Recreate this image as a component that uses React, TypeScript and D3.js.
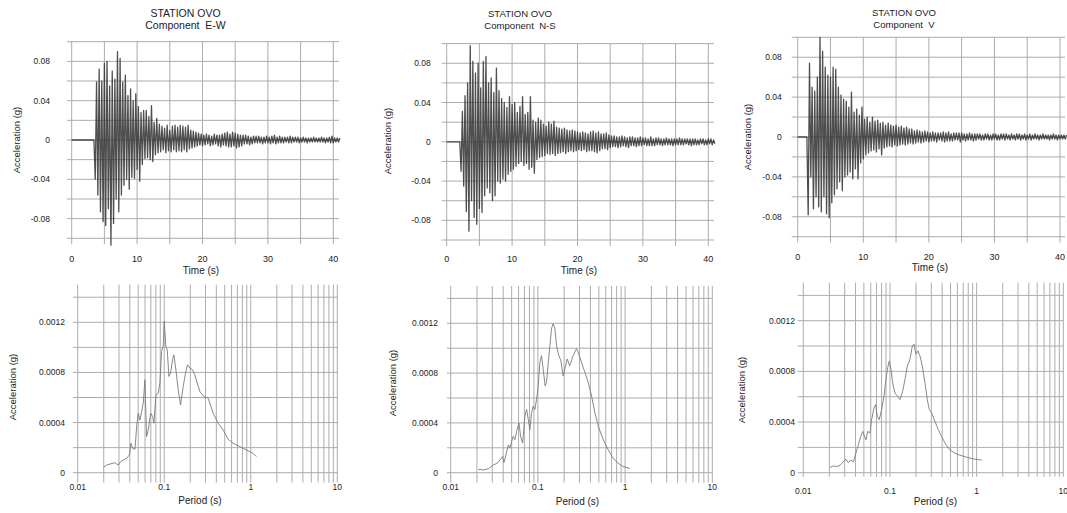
import React from "react";
import * as d3 from "d3";

// accelerograms: one sample every 0.2 s, values in 0.001 g
const DT = 0.2;

const ewStart = 3.4;
const ewAcc = [
  0, -40, 59, -56, 72, -73, 60, -83, 78, -87,
  80, -70, 55, -107, 70, -85, 62, -60, 90, -73,
  83, -56, 59, -46, 66, -40, 45, -50, 52, -38,
  40, -39, 47, -30, 34, -42, 28, -25, 30, -19,
  30, -18, 24, -20, 35, -22, 18, -15, 22, -13,
  16, -12, 14, -10, 12, -13, 15, -11, 10, -12,
  14, -10, 15, -12, 13, -11, 15, -12, 14, -10,
  13, -12, 15, -9, 10, -8, 9, -7, 8, -6,
  7, -5, 6, -6, 5,
  -5, 6, -4, 5, -6, 4, -5, 6, -4, 5,
  -6, 5, -7, 6, -5, 7, -6, 8, -7, 6,
  -7, 8, -6, 7, -8, 6, -7, 5, -6, 5,
  -4, 5, -4, 4, -5, 3, -4, 4, -3, 4,
  -3, 4, -3, 3, -4, 3, -3, 4, -3, 3,
  -4, 4, -3, 5, -4, 3, -3, 4, -3, 3,
  -3, 3, -2, 3, -3, 4, -3, 3, -2, 3,
  -2, 3, -3, 2, -2, 3, -2, 2, -3, 2,
  -2, 2, -2, 3, -2, 2, -2, 2, -2, 3,
  -2, 2, -3, 2, -2, 3, -3, 4, -3, 2,
  -2, 2, -2, 2,
];

const nsStart = 2.0;
const nsAcc = [
  0, -30, 31, -45, 47, -71, 60, -91, 98, -60,
  82, -77, 70, -84, 80, -68, 55, -72, 82, -55,
  87, -47, 60, -52, 65, -60, 50, -55, 75, -40,
  52, -42, 44, -38, 40, -40, 35, -33, 46, -30,
  38, -28, 40, -25, 30, -22, 36, -20, 46, -24,
  28, -22, 30, -28, 46, -26, 22, -32, 20, -18,
  24, -16, 22, -15, 18, -14, 16, -12, 20, -13,
  18, -12, 21, -14, 15, -12, 14, -11, 13, -10,
  14, -12, 12, -10, 11, -9, 12, -10, 11, -9,
  10, -8, 9, -9, 10, -8, 9, -10, 8, -9,
  10, -9, 11, -10, 9, -11, 10, -9, 8, -7,
  8, -7, 9, -8, 7, -6, 6, -5, 6, -5,
  5, -6, 5, -5, 6, -4, 5, -5, 4, -6,
  5, -4, 5, -4, 4, -5, 4, -4, 5, -4,
  4, -3, 4, -4, 3, -4, 5, -4, 3, -4,
  4, -3, 4, -3, 3, -4, 3, -3, 4, -3,
  3, -3, 3, -4, 3, -3, 3, -3, 4, -3,
  3, -3, 3, -2, 3, -3, 3, -4, 3, -3,
  3, -3, 2, -3, 3, -2, 3, -3, 2, -3,
  3, -2, 3, -3, 2, -2,
];

const vStart = 1.4;
const vAcc = [
  0, -78, 74, -40, 50, -72, 46, -60, 60, -70,
  100, -75, 86, -60, 70, -77, 62, -81, 60, -66,
  70, -58, 68, -52, 50, -45, 42, -54, 38, -40,
  36, -38, 30, -35, 45, -42, 25, -32, 28, -42,
  22, -26, 30, -22, 18, -18, 20, -16, 15, -14,
  20, -13, 16, -15, 17, -12, 14, -18, 15, -11,
  12, -10, 14, -9, 12, -10, 11, -8, 12, -9,
  10, -8, 11, -7, 9, -8, 10, -7, 8, -6,
  8, -7, 6, -6, 7, -5, 6, -6, 5, -5,
  6, -4, 5, -5, 4,
  -4, 5, -4, 4, -5, 4, -3, 4, -4, 5,
  -5, 4, -4, 5, -4, 3, -4, 4, -3, 4,
  -3, 4, -5, 4, -3, 3, -4, 3, -3, 4,
  -3, 3, -4, 3, -3, 3, -2, 3, -3, 2,
  -3, 3, -2, 3, -3, 2, -3, 3, -2, 3,
  -3, 2, -3, 3, -2, 3, -3, 3, -2, 2,
  -3, 3, -2, 2, -3, 3, -2, 3, -3, 2,
  -2, 3, -3, 2, -2, 3, -3, 2, -2, 3,
  -2, 2, -3, 2, -2, 3, -2, 2, -2, 2,
  -3, 2, -2, 3, -2, 2, -3, 2, -2, 2,
  -2, 2, -2, 2,
];

// response spectra: period (s) and acceleration (0.0001 g)
const ewPeriod = [
  0.0198, 0.0216, 0.0236, 0.027, 0.0294, 0.0313, 0.0337, 0.0368, 0.0395, 0.0412,
  0.0431, 0.0459, 0.048, 0.0501, 0.0524, 0.0548, 0.0572, 0.0598, 0.0625, 0.0654,
  0.0696, 0.0734, 0.076, 0.0801, 0.0853, 0.0891, 0.0932, 0.0974, 0.1, 0.1045,
  0.1083, 0.1132, 0.1183, 0.1247, 0.1294, 0.1364, 0.1452, 0.1543, 0.1656, 0.1762,
  0.1858, 0.1977, 0.2123, 0.2259, 0.2404, 0.258, 0.2871, 0.3221, 0.3676, 0.4201,
  0.4797, 0.5476, 0.6251, 0.7464, 0.8913, 1.064, 1.16,
];
const ewSa = [
  0.43, 0.61, 0.69, 0.8, 0.61, 0.88, 1.01, 1.15, 1.41, 2.35,
  1.95, 1.87, 3.68, 4.75, 4.21, 4.88, 5.55, 7.41, 2.88, 3.41,
  4.75, 4.48, 3.95, 6.21, 6.35, 7.15, 9.68, 10.08, 12.08, 10.08,
  9.81, 7.68, 7.95, 9.01, 9.41, 8.21, 6.61, 5.41, 6.88, 7.95,
  8.61, 8.35, 8.21, 7.81, 7.15, 6.48, 6.08, 5.95, 4.75, 3.95,
  3.41, 2.67, 2.35, 2.08, 1.81, 1.55, 1.28,
];

const nsPeriod = [
  0.0207, 0.0237, 0.027, 0.0308, 0.0342, 0.0367, 0.0394, 0.0408, 0.043, 0.0458,
  0.0478, 0.05, 0.0522, 0.0545, 0.057, 0.0606, 0.0633, 0.0667, 0.071, 0.0742,
  0.0775, 0.081, 0.0846, 0.0884, 0.0924, 0.0965, 0.1, 0.1054, 0.1101, 0.115,
  0.121, 0.1255, 0.1316, 0.1373, 0.1434, 0.1498, 0.1565, 0.1635, 0.1738, 0.1834,
  0.1948, 0.2036, 0.2166, 0.232, 0.2535, 0.277, 0.2897, 0.3166, 0.3458, 0.3778,
  0.4127, 0.4509, 0.4926, 0.5615, 0.64, 0.7293, 0.8312, 0.9474, 1.128,
];
const nsSa = [
  0.27, 0.22, 0.32, 0.62, 0.76, 1.03, 1.3, 0.81, 1.43, 2.24,
  1.97, 2.51, 2.92, 2.65, 3.32, 4.0, 2.92, 2.38, 4.54, 5.08,
  4.27, 3.46, 4.81, 5.35, 5.08, 5.89, 6.7, 8.86, 9.4, 8.32,
  6.97, 7.24, 8.86, 10.2, 11.6, 11.97, 11.6, 10.2, 9.4, 9.0,
  7.78, 8.32, 9.14, 8.59, 9.4, 9.95, 9.68, 8.86, 8.05, 7.24,
  6.16, 4.81, 3.73, 2.65, 1.84, 1.16, 0.76, 0.49, 0.35,
];

const vPeriod = [
  0.0203, 0.0222, 0.0242, 0.0265, 0.0289, 0.0311, 0.0331, 0.0352, 0.0378, 0.0405,
  0.0431, 0.0459, 0.0484, 0.0506, 0.0529, 0.0552, 0.0588, 0.0614, 0.0654, 0.0683,
  0.0714, 0.0753, 0.0801, 0.0853, 0.0899, 0.094, 0.0983, 0.1027, 0.1073, 0.1142,
  0.1215, 0.1305, 0.1401, 0.149, 0.1585, 0.1702, 0.181, 0.1892, 0.1995, 0.2104,
  0.2219, 0.2361, 0.2534, 0.2697, 0.2843, 0.3026, 0.3305, 0.3612, 0.3947, 0.4429,
  0.4924, 0.5623, 0.6424, 0.7668, 0.9153, 1.142,
];
const vSa = [
  0.42, 0.53, 0.48, 0.58, 0.87, 1.06, 0.79, 1.0, 0.87, 1.54,
  2.2, 2.86, 3.26, 2.91, 2.6, 3.26, 3.13, 4.19, 5.11, 5.38,
  4.45, 4.19, 4.98, 6.04, 7.36, 8.29, 8.82, 8.16, 7.1, 6.3,
  6.04, 5.77, 6.44, 7.36, 8.42, 8.95, 10.0, 10.15, 9.35, 9.62,
  9.22, 8.42, 7.1, 5.77, 4.98, 4.72, 4.05, 3.39, 2.86, 2.2,
  1.8, 1.54, 1.38, 1.22, 1.09, 1.0,
];

const components = ["E-W", "N-S", "V"];
const timeTicks = [0, 10, 20, 30, 40];
const accTicks = [0.08, 0.04, 0, -0.04, -0.08];
const saTicks = [0, 0.0004, 0.0008, 0.0012];
const periodTicks = [0.01, 0.1, 1, 10];

const FONT = "'Liberation Sans', Arial, Helvetica, sans-serif";
const GRID = "#acacac";

// where each column sits in the page (pixels)
const layouts = [
  {
    title: [185.5, 16.7, 28.5], titleSize: 10.5,
    tx: [71.7, 333.3], tExt: [67, 339], ty: [238.3, 41.7], tyLab: 50, txLab: 261.7, tTitle: [201, 274], tAxis: [17, 140],
    px: [77.7, 337.3], pExt: [73, 338], py: [472.7, 322.3], pTick: 10, pyLab: 65, pxLab: 490, pTitle: [200, 504], pAxis: [13.5, 387],
  },
  {
    title: [520, 17.3, 29], titleSize: 9.6,
    tx: [446.7, 708.3], tExt: [441.7, 714], ty: [240, 43.6], tyLab: 430.7, txLab: 261.7, tTitle: [579, 274], tAxis: [388.5, 141],
    px: [450.7, 712.3], pExt: [447, 712.3], py: [472.7, 323.3], pTick: 10, pyLab: 438, pxLab: 490, pTitle: [577.5, 505], pAxis: [393, 383],
  },
  {
    title: [904, 16, 28], titleSize: 9.6,
    tx: [797.7, 1060], tExt: [791.7, 1065], ty: [236.7, 37.3], tyLab: 781.7, txLab: 260, tTitle: [930, 271], tAxis: [748.5, 137],
    px: [803.3, 1063.3], pExt: [797.7, 1063.3], py: [472.7, 320.7], pTick: 4, pyLab: 795, pxLab: 494, pTitle: [935.5, 505], pAxis: [742, 390],
  },
];

const records = [
  { start: ewStart, acc: ewAcc, period: ewPeriod, sa: ewSa },
  { start: nsStart, acc: nsAcc, period: nsPeriod, sa: nsSa },
  { start: vStart, acc: vAcc, period: vPeriod, sa: vSa },
];

function TimePanel({ lay, rec, comp }: any) {
  const x = d3.scaleLinear().domain([0, 40]).range(lay.tx);
  const y = d3.scaleLinear().domain([-0.1, 0.1]).range(lay.ty);
  const pts: [number, number][] = [[0, 0]];
  rec.acc.forEach((v: number, i: number) => pts.push([rec.start + i * DT, v / 1000]));
  const line = d3.line<[number, number]>().x(d => x(d[0])).y(d => y(d[1]));
  const hGrid = d3.range(-5, 6).map(k => k * 0.02);
  const vGrid = d3.range(0, 41, 5);
  return (
    <g>
      <text x={lay.title[0]} y={lay.title[1]} textAnchor="middle" fontSize={lay.titleSize}>STATION OVO</text>
      <text x={lay.title[0]} y={lay.title[2]} textAnchor="middle" fontSize={lay.titleSize} style={{ whiteSpace: "pre" }}>{"Component  " + comp}</text>
      {hGrid.map(v => (
        <line key={"h" + v} x1={lay.tExt[0]} x2={lay.tExt[1]} y1={y(v)} y2={y(v)} stroke={GRID} strokeWidth={1} />
      ))}
      {vGrid.map(t => (
        <line key={"v" + t} x1={x(t)} x2={x(t)} y1={y(0.1)} y2={y(-0.1) + 6} stroke={GRID} strokeWidth={1} />
      ))}
      <path d={line(pts) || ""} fill="none" stroke="#303030" strokeWidth={1.3} strokeOpacity={0.85} strokeLinejoin="round" />
      {accTicks.map(v => (
        <text key={"yl" + v} x={lay.tyLab} y={y(v) + 3} textAnchor="end" fontSize={8.5}>{String(v)}</text>
      ))}
      {timeTicks.map(t => (
        <text key={"xl" + t} x={x(t)} y={lay.txLab} textAnchor="middle" fontSize={9}>{String(t)}</text>
      ))}
      <text x={lay.tTitle[0]} y={lay.tTitle[1]} textAnchor="middle" fontSize={10}>Time (s)</text>
      <text transform={`translate(${lay.tAxis[0]},${lay.tAxis[1]}) rotate(-90)`} textAnchor="middle" dominantBaseline="middle" fontSize={9.5}>Acceleration (g)</text>
    </g>
  );
}

function SpecPanel({ lay, rec }: any) {
  const x = d3.scaleLog().domain([0.01, 10]).range(lay.px);
  const y = d3.scaleLinear().domain([0, 0.0012]).range(lay.py);
  const pts: [number, number][] = rec.period.map((p: number, i: number) => [p, rec.sa[i] * 1e-4]);
  const line = d3.line<[number, number]>().x(d => x(d[0])).y(d => y(d[1]));
  const hGrid = d3.range(0, 8).map(k => k * 0.0002);
  const vGrid = x.ticks();
  return (
    <g>
      {hGrid.map(v => (
        <line key={"h" + v} x1={lay.pExt[0]} x2={lay.pExt[1]} y1={y(v)} y2={y(v)} stroke={GRID} strokeWidth={1} />
      ))}
      {vGrid.map(p => (
        <line key={"v" + p} x1={x(p)} x2={x(p)} y1={y(0.0015)} y2={y(0) + lay.pTick} stroke={GRID} strokeWidth={1} />
      ))}
      <path d={line(pts) || ""} fill="none" stroke="#7a7a7a" strokeWidth={0.9} strokeLinejoin="round" />
      {saTicks.map(v => (
        <text key={"yl" + v} x={lay.pyLab} y={y(v) + 3} textAnchor="end" fontSize={8.5}>{String(v)}</text>
      ))}
      {periodTicks.map(p => (
        <text key={"xl" + p} x={x(p)} y={lay.pxLab} textAnchor="middle" fontSize={8.5}>{String(p)}</text>
      ))}
      <text x={lay.pTitle[0]} y={lay.pTitle[1]} textAnchor="middle" fontSize={10}>Period (s)</text>
      <text transform={`translate(${lay.pAxis[0]},${lay.pAxis[1]}) rotate(-90)`} textAnchor="middle" dominantBaseline="middle" fontSize={9.5}>Acceleration (g)</text>
    </g>
  );
}

export default function App() {
  return (
    <svg width={1067} height={513} fontFamily={FONT} fill="#222"
      style={{ position: "absolute", left: 0, top: 0, background: "#fff", display: "block" }}>
      {layouts.map((lay, i) => (
        <g key={i}>
          <TimePanel lay={lay} rec={records[i]} comp={components[i]} />
          <SpecPanel lay={lay} rec={records[i]} />
        </g>
      ))}
    </svg>
  );
}
